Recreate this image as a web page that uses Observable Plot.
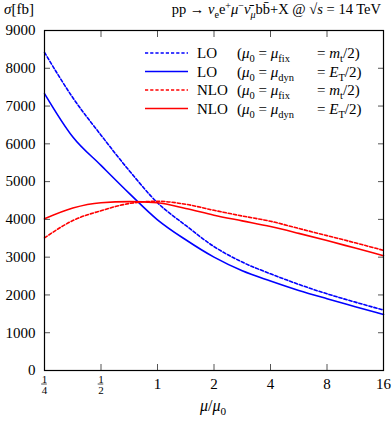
<!DOCTYPE html>
<html><head><meta charset="utf-8">
<script src="https://cdn.jsdelivr.net/npm/d3@7"></script>
<script src="https://cdn.jsdelivr.net/npm/@observablehq/plot@0.6"></script>
<style>body{margin:0;background:#fff} svg{display:block}</style>
</head><body><div id="chart"></div>
<script>
// scale ratio mu/mu0 (log2 grid, half steps)
const mu = [0.25, 0.354, 0.5, 0.707, 1, 1.414, 2, 2.828, 4, 5.657, 8, 11.31, 16];
const loFix  = [8420, 7220, 6230, 5290, 4440, 3840, 3280, 2870, 2560, 2280, 2030, 1810, 1600];
const loDyn  = [7330, 6180, 5430, 4690, 3990, 3460, 3000, 2640, 2370, 2120, 1900, 1690, 1480];
const nloFix = [3510, 3970, 4230, 4420, 4480, 4400, 4240, 4090, 3950, 3760, 3570, 3380, 3180];
const nloDyn = [4015, 4300, 4440, 4470, 4440, 4290, 4110, 3960, 3810, 3630, 3440, 3240, 3040];

const seriesNames = ["LO fix", "LO dyn", "NLO fix", "NLO dyn"];
const seriesOrder = ["LO", "LO", "NLO", "NLO"];
const seriesColors = ["#0000ff", "#0000ff", "#ff0000", "#ff0000"];
const seriesDashed = [true, false, true, false];

const yTicks = [0, 1000, 2000, 3000, 4000, 5000, 6000, 7000, 8000, 9000];
const xTicks = [0.25, 0.5, 1, 2, 4, 8, 16];
const xIntTicks = [1, 2, 4, 8, 16];
const xFracTicks = [0.25, 0.5];
const fracNum = ["1", "1"];
const fracDen = ["4", "2"];

const seriesValues = [loFix, loDyn, nloFix, nloDyn];
const rows = seriesValues.map((vals, s) => mu.map((m, i) => ({mu: m, sigma: vals[i], series: seriesNames[s]})));

const dash = "3.2,2";
const font = "'Liberation Serif', 'DejaVu Serif', serif";

const lineMarks = rows.map((data, s) => Plot.line(data, {
  x: "mu", y: "sigma", curve: "monotone-x",
  stroke: seriesColors[s], strokeWidth: 1.6,
  strokeDasharray: seriesDashed[s] ? dash : null
}));

const plot = Plot.plot({
  width: 392, height: 422,
  marginLeft: 44, marginRight: 9, marginTop: 30, marginBottom: 52,
  x: {type: "log", base: 2, domain: [0.25, 16], label: null},
  y: {domain: [0, 9000], label: null},
  style: {fontFamily: font, fontSize: "15px", background: "white", color: "black"},
  marks: [
    Plot.axisY(yTicks, {anchor: "left", tickSize: -6, tickFormat: () => "", stroke: "#555", label: null}),
    Plot.axisY(yTicks, {anchor: "right", tickSize: -6, tickFormat: () => "", stroke: "#555", label: null}),
    Plot.axisX(xTicks, {anchor: "bottom", tickSize: -6, tickFormat: () => "", stroke: "#555", label: null}),
    Plot.axisX(xTicks, {anchor: "top", tickSize: -6, tickFormat: () => "", stroke: "#555", label: null}),
    Plot.axisY(yTicks, {anchor: "left", tickSize: 0, tickPadding: 9, tickFormat: d => String(d), label: null, fontSize: 15}),
    Plot.axisX(xIntTicks, {anchor: "bottom", tickSize: 0, tickPadding: 8, tickFormat: d => String(d), label: null, fontSize: 15}),
    Plot.text(xFracTicks, {x: d => d, text: (d, i) => fracNum[i], frameAnchor: "bottom", lineAnchor: "middle", dy: 9, fontSize: 11}),
    Plot.text(xFracTicks, {x: d => d, text: (d, i) => fracDen[i], frameAnchor: "bottom", lineAnchor: "middle", dy: 19.5, fontSize: 11}),
    ...lineMarks,
    Plot.frame({stroke: "black", strokeWidth: 1.2})
  ]
});

const svg = d3.select(plot);
const xs = plot.scale("x");

// fraction bars
svg.append("g").selectAll("line").data(xFracTicks).join("line")
  .attr("x1", d => xs.apply(d) - 2.8).attr("x2", d => xs.apply(d) + 2.8)
  .attr("y1", 384).attr("y2", 384)
  .attr("stroke", "black").attr("stroke-width", 0.7);

function rich(sel, parts, size) {
  let cur = 0;
  for (const [t, k] of parts) {
    const isSub = k.includes("sub"), isSup = k.includes("sup");
    const shift = isSub ? 0.28 * size : isSup ? -0.38 * size : 0;
    const ts = sel.append("tspan").text(t).attr("dy", shift - cur);
    cur = shift;
    if (isSub || isSup) ts.attr("font-size", size * 0.7);
    if (k.startsWith("i")) ts.attr("font-style", "italic");
  }
}

const tg = svg.append("g").attr("font-family", font).attr("fill", "black").attr("text-anchor", "start");
// top-left y label
rich(tg.append("text").attr("x", 4).attr("y", 14).attr("font-size", 15),
  [["σ", "i"], ["[fb]", ""]], 15);
// top-right process title
rich(tg.append("text").attr("x", 381).attr("y", 14).attr("font-size", 14.5).attr("text-anchor", "end"),
  [["pp → ", ""], ["ν", "i"], ["e", "sub"], ["e", ""], ["+", "sup"], ["μ", "i"], ["−", "sup"],
   ["ν\u0304", "i"], ["μ", "isub"], ["bb\u0304+X @ √", ""], ["s", "i"], [" = 14 TeV", ""]], 14.5);
// x axis label
rich(tg.append("text").attr("x", 213).attr("y", 411).attr("font-size", 16).attr("text-anchor", "middle"),
  [["μ", "i"], ["/", ""], ["μ", "i"], ["0", "sub"]], 16);

// legend
const legendY = [53, 71.5, 90, 108.5];
const lg = svg.append("g").attr("font-family", font).attr("font-size", 15).attr("fill", "black").attr("text-anchor", "start");
const legendParts = [
  [["(", ""], ["μ", "i"], ["0", "sub"], [" = ", ""], ["μ", "i"], ["fix", "sub"]],
  [["(", ""], ["μ", "i"], ["0", "sub"], [" = ", ""], ["μ", "i"], ["dyn", "sub"]]
];
const legendTail = [
  [["= ", ""], ["m", "i"], ["t", "sub"], ["/2)", ""]],
  [["= ", ""], ["E", "i"], ["T", "sub"], ["/2)", ""]]
];
seriesNames.forEach((name, s) => {
  const y = legendY[s];
  lg.append("line").attr("x1", 145).attr("x2", 188).attr("y1", y).attr("y2", y)
    .attr("stroke", seriesColors[s]).attr("stroke-width", 1.6)
    .attr("stroke-dasharray", seriesDashed[s] ? dash : null);
  lg.append("text").attr("x", 197).attr("y", y + 5).text(seriesOrder[s]);
  rich(lg.append("text").attr("x", 237).attr("y", y + 5), legendParts[s % 2], 15);
  rich(lg.append("text").attr("x", 317).attr("y", y + 5), legendTail[s % 2], 15);
});

document.getElementById("chart").appendChild(plot);
</script>
</body></html>
